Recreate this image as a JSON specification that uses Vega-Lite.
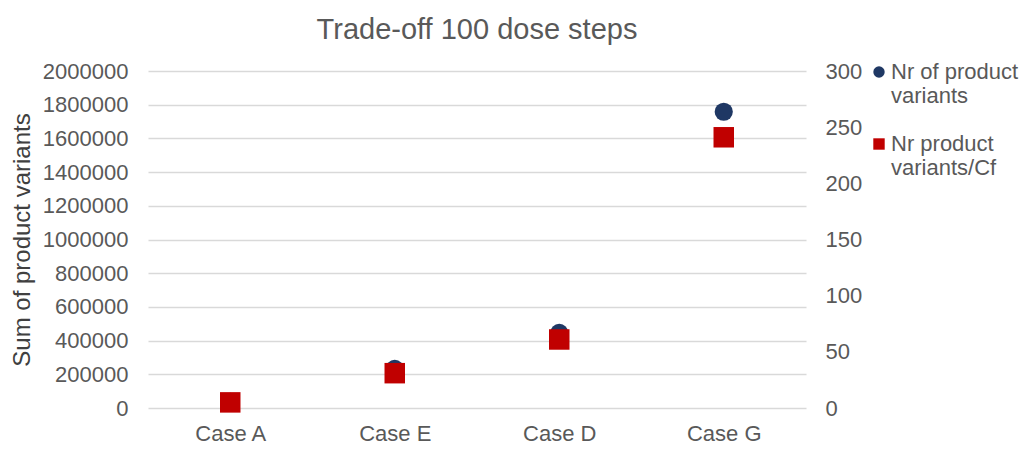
{
  "$schema": "https://vega.github.io/schema/vega-lite/v6.json",
  "width": 658,
  "height": 337,
  "autosize": {"type": "none"},
  "padding": {"left": 148, "top": 71, "right": 218, "bottom": 46},
  "background": "white",
  "config": {
    "font": "Liberation Sans",
    "view": {"stroke": null}
  },
  "title": {
    "text": "Trade-off 100 dose steps",
    "fontSize": 29,
    "fontWeight": "normal",
    "color": "#595959",
    "anchor": "middle",
    "offset": 15
  },
  "data": {
    "values": [
      {"case": "Case A", "series": "Nr of product variants", "value": 36000},
      {"case": "Case E", "series": "Nr of product variants", "value": 232000},
      {"case": "Case D", "series": "Nr of product variants", "value": 446000},
      {"case": "Case G", "series": "Nr of product variants", "value": 1758000},
      {"case": "Case A", "series": "Nr product variants/Cf", "value": 5},
      {"case": "Case E", "series": "Nr product variants/Cf", "value": 31},
      {"case": "Case D", "series": "Nr product variants/Cf", "value": 61},
      {"case": "Case G", "series": "Nr product variants/Cf", "value": 241}
    ]
  },
  "encoding": {
    "x": {
      "field": "case",
      "type": "nominal",
      "sort": ["Case A", "Case E", "Case D", "Case G"],
      "axis": {
        "title": null,
        "labelAngle": 0,
        "labelFontSize": 22,
        "labelColor": "#595959",
        "labelPadding": 15,
        "ticks": false,
        "domain": false,
        "grid": false
      }
    },
    "color": {
      "field": "series",
      "type": "nominal",
      "scale": {
        "domain": ["Nr of product variants", "Nr product variants/Cf"],
        "range": ["#1F3864", "#C00000"]
      },
      "legend": {
        "title": null,
        "orient": "none",
        "legendX": 720,
        "legendY": -10,
        "labelFontSize": 22,
        "labelColor": "#595959",
        "labelLineHeight": 23,
        "symbolSize": 130,
        "labelOffset": 1,
        "rowPadding": 26,
        "labelExpr": "datum.label == 'Nr of product variants' ? ['Nr of product', 'variants'] : ['Nr product', 'variants/Cf']"
      }
    },
    "shape": {
      "field": "series",
      "type": "nominal",
      "scale": {
        "domain": ["Nr of product variants", "Nr product variants/Cf"],
        "range": ["circle", "square"]
      },
      "legend": {
        "title": null,
        "orient": "none",
        "legendX": 720,
        "legendY": -10,
        "labelFontSize": 22,
        "labelColor": "#595959",
        "labelLineHeight": 23,
        "symbolSize": 130,
        "labelOffset": 1,
        "rowPadding": 26,
        "labelExpr": "datum.label == 'Nr of product variants' ? ['Nr of product', 'variants'] : ['Nr product', 'variants/Cf']"
      }
    }
  },
  "layer": [
    {
      "transform": [{"filter": "datum.series == 'Nr of product variants'"}],
      "mark": {"type": "point", "filled": true, "opacity": 1, "size": 330},
      "encoding": {
        "y": {
          "field": "value",
          "type": "quantitative",
          "scale": {"domain": [0, 2000000], "nice": false},
          "axis": {
            "title": "Sum of product variants",
            "titleFontSize": 24,
            "titleFontWeight": "normal",
            "titleColor": "#404040",
            "titlePadding": 8,
            "values": [0, 200000, 400000, 600000, 800000, 1000000, 1200000, 1400000, 1600000, 1800000, 2000000],
            "format": "d",
            "labelFontSize": 22,
            "labelColor": "#595959",
            "labelPadding": 20,
            "ticks": false,
            "domain": false,
            "grid": true,
            "gridColor": "#D9D9D9",
            "gridWidth": 1.5
          }
        }
      }
    },
    {
      "transform": [{"filter": "datum.series == 'Nr product variants/Cf'"}],
      "mark": {"type": "point", "filled": true, "opacity": 1, "size": 420},
      "encoding": {
        "y": {
          "field": "value",
          "type": "quantitative",
          "scale": {"domain": [0, 300], "nice": false},
          "axis": {
            "orient": "right",
            "title": null,
            "values": [0, 50, 100, 150, 200, 250, 300],
            "labelFontSize": 22,
            "labelColor": "#595959",
            "labelPadding": 19,
            "ticks": false,
            "domain": false,
            "grid": false
          }
        }
      }
    }
  ],
  "resolve": {"scale": {"y": "independent"}, "axis": {"y": "independent"}}
}
